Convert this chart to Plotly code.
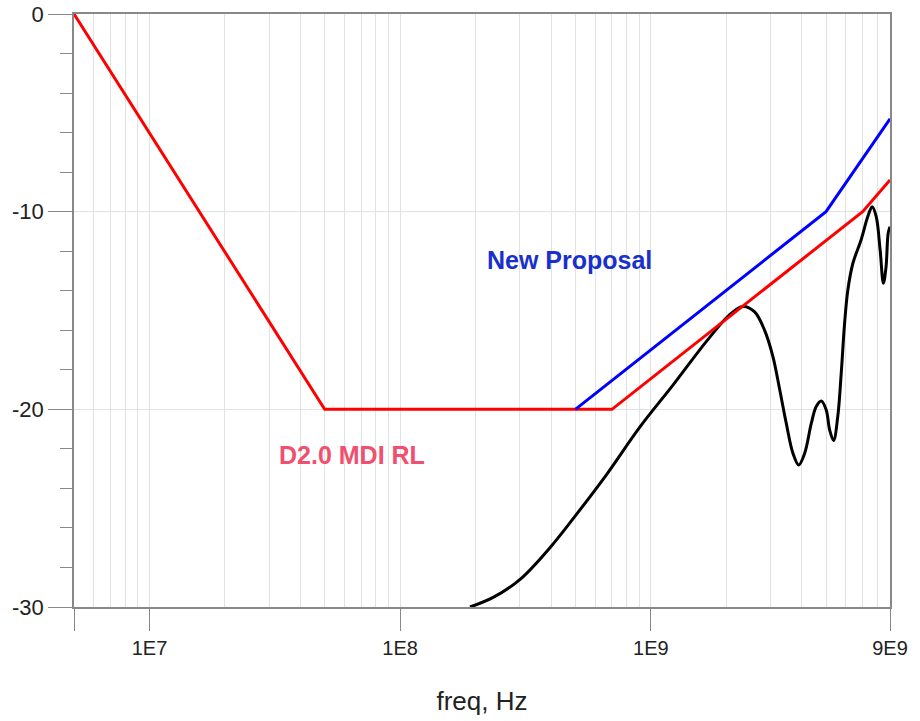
import numpy as np
import plotly.graph_objects as go

# ---- data ----
red_f = [5e6, 5e7, 7e8, 7e9, 9e9]
red_db = [0, -20, -20, -10, -8.4]

blue_f = [5e8, 5e9, 9e9]
blue_db = [-20, -10, -5.3]

black_f = [1.90e8, 2.36e8, 3.01e8, 3.96e8, 5.06e8, 6.66e8, 9.04e8, 1.23e9, 1.67e9,
           2.06e9, 2.33e9, 2.59e9, 2.84e9, 3.07e9, 3.27e9, 3.47e9, 3.69e9,
           3.89e9, 4.11e9, 4.37e9, 4.57e9, 4.79e9, 5.01e9, 5.17e9, 5.36e9, 5.57e9,
           5.75e9, 5.93e9, 6.11e9, 6.4e9, 6.9e9, 7.34e9, 7.64e9, 7.93e9, 8.22e9,
           8.47e9, 8.68e9, 8.85e9, 9.0e9]
black_db = [-30.0, -29.5, -28.6, -27.0, -25.3, -23.3, -20.9, -18.75, -16.55,
            -15.22, -14.80, -15.06, -15.98, -17.33, -19.02, -20.70, -22.22,
            -22.81, -22.22, -20.70, -19.86, -19.58, -20.03, -21.04, -21.58, -20.37,
            -18.17, -15.65, -13.96, -12.61, -11.43, -10.25, -9.75, -10.25, -11.94,
            -13.62, -12.78, -11.09, -10.76]

x_tickvals = [5e6, 1e7, 1e8, 1e9, 9e9]
x_ticktext = ["", "1E7", "1E8", "1E9", "9E9"]
y_tickvals = [0, -10, -20, -30]
y_ticktext = ["0", "-10", "-20", "-30"]

grid_vals = [m * 10 ** e for e in range(6, 10) for m in range(1, 10)
             if 5e6 <= m * 10 ** e <= 9e9]

fig = go.Figure()
fig.add_trace(go.Scatter(x=black_f, y=black_db, mode="lines",
                         line=dict(color="black", width=3, shape="spline", smoothing=1.0),
                         showlegend=False))
fig.add_trace(go.Scatter(x=red_f, y=red_db, mode="lines",
                         line=dict(color="#ff0000", width=3), showlegend=False))
fig.add_trace(go.Scatter(x=blue_f, y=blue_db, mode="lines",
                         line=dict(color="#0000ff", width=3), showlegend=False))

fig.add_annotation(x=np.log10(4.75e8), y=-12.45, text="<b>New Proposal</b>", showarrow=False,
                   font=dict(family="Liberation Sans, Arial", size=25, color="#1a30cc"))
fig.add_annotation(x=np.log10(6.4e7), y=-22.3, text="<b>D2.0 MDI RL</b>", showarrow=False,
                   font=dict(family="Liberation Sans, Arial", size=25, color="#f0506e"))

axis_color = "#888888"
grid_color = "#e2e2e2"

fig.update_xaxes(type="log", range=[np.log10(5e6), np.log10(9e9)],
                 tickvals=x_tickvals, ticktext=x_ticktext, automargin=False,
                 ticks="outside", ticklen=22, tickcolor=axis_color, tickwidth=1,
                 showgrid=False, showline=True, linecolor=axis_color, linewidth=1.5,
                 mirror=True, zeroline=False,
                 tickfont=dict(family="Liberation Sans, Arial", size=20, color="#222"),
                 minor=dict(tickvals=grid_vals, showgrid=True, gridcolor=grid_color,
                            gridwidth=1.2, ticks=""),
                 title=dict(text="freq, Hz", standoff=34,
                            font=dict(family="Liberation Sans, Arial", size=26, color="#222")))
fig.update_yaxes(range=[-30, 0], tickvals=y_tickvals, ticktext=y_ticktext, automargin=False,
                 ticks="outside", ticklen=24, tickcolor=axis_color, tickwidth=1,
                 showgrid=True, gridcolor=grid_color, gridwidth=1.2,
                 showline=True, linecolor=axis_color, linewidth=1.5, mirror=True,
                 zeroline=False,
                 tickfont=dict(family="Liberation Sans, Arial", size=22, color="#222"),
                 minor=dict(dtick=2, ticks="outside", ticklen=12, tickcolor=axis_color,
                            showgrid=False))

fig.update_layout(width=920, height=721, plot_bgcolor="white", paper_bgcolor="white",
                  margin=dict(l=74, r=30, t=14, b=114))

fig.write_html("out.html")
